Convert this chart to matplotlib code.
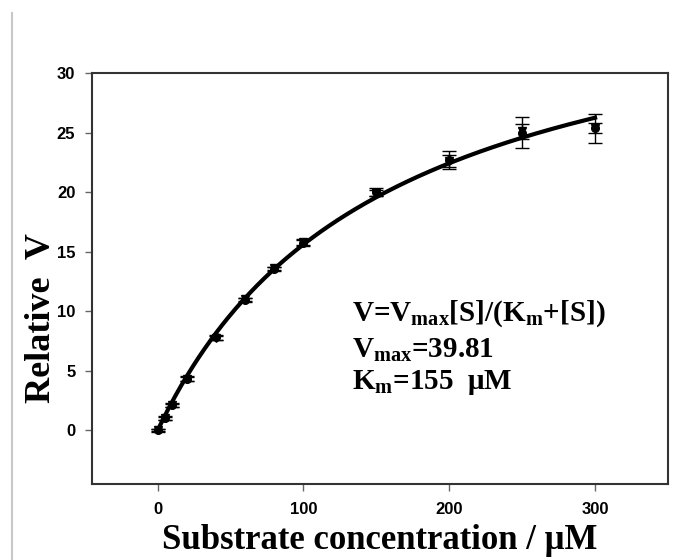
import numpy as np
import matplotlib
matplotlib.use('Agg')
import matplotlib.pyplot as plt
from matplotlib.lines import Line2D

plt.rcParams['mathtext.fontset'] = 'custom'
plt.rcParams['mathtext.rm'] = 'Liberation Serif:bold'
plt.rcParams['mathtext.it'] = 'Liberation Serif:bold'
plt.rcParams['mathtext.bf'] = 'Liberation Serif:bold'

# data
conc = [0, 5, 10, 20, 40, 60, 80, 100, 150, 200, 250, 300]
v_circ = [0.05, 1.05, 2.15, 4.35, 7.8, 10.95, 13.55, 15.75, 20.0, 22.7, 25.0, 25.35]
err_circ = [0.1, 0.15, 0.15, 0.2, 0.2, 0.2, 0.2, 0.3, 0.35, 0.75, 1.3, 1.2]
v_tri = [0.0, 1.0, 2.1, 4.3, 7.75, 11.0, 13.6, 15.8, 19.9, 22.6, 25.1, 25.4]
err_tri = [0.1, 0.1, 0.1, 0.15, 0.15, 0.15, 0.15, 0.2, 0.25, 0.5, 0.6, 0.4]
vmax = 39.81
km = 155

fig = plt.figure(figsize=(6.89, 5.6), dpi=100)
ax = fig.add_axes([0.1335, 0.1357, 0.836, 0.7339])

s = np.linspace(0, 300, 300)
ax.plot(s, vmax * s / (km + s), color='black', lw=3, zorder=3)

ax.errorbar(conc, v_circ, yerr=err_circ, fmt='o', color='black', ms=5.5,
            capsize=5, elinewidth=1, capthick=1, zorder=4)
ax.errorbar(conc, v_tri, yerr=err_tri, fmt='v', color='black', ms=5.5,
            capsize=5, elinewidth=1, capthick=1, zorder=4)

ax.set_xlim(-45, 350)
ax.set_ylim(-4.5, 30)
ax.set_xticks([0, 100, 200, 300])
ax.set_yticks([0, 5, 10, 15, 20, 25, 30])
for sp in ax.spines.values():
    sp.set_color('#333333')
    sp.set_linewidth(1.5)
ax.tick_params(direction='out', length=5, width=1, color='#666666')
ax.tick_params(axis='x', pad=8)
ax.tick_params(axis='y', pad=7)
for lab in ax.get_xticklabels() + ax.get_yticklabels():
    lab.set_fontfamily('Liberation Sans')
    lab.set_fontweight('bold')
    lab.set_fontsize(12)

ax.set_xlabel('Substrate concentration / μM', fontfamily='Liberation Serif',
              fontweight='bold', fontsize=25, labelpad=5)
fig.text(41 / 689, 1 - 318 / 560, 'Relative  V', rotation=90, ha='center',
         va='center', fontfamily='Liberation Serif', fontweight='bold',
         fontsize=26)

txt = dict(fontfamily='Liberation Serif', fontweight='bold', fontsize=21,
           transform=ax.transData)
ax.text(133, 9.2, r'V=V$_{\mathrm{max}}$[S]/(K$_{\mathrm{m}}$+[S])', **txt)
ax.text(133, 6.1, r'V$_{\mathrm{max}}$=39.81', **txt)
ax.text(133, 3.5, r'K$_{\mathrm{m}}$=155  μM', **txt)

fig.add_artist(Line2D([0.017, 0.017], [0, 0.977], color='#c8c8c8', lw=1.5,
                      transform=fig.transFigure))

fig.savefig('out.png', dpi=100)
